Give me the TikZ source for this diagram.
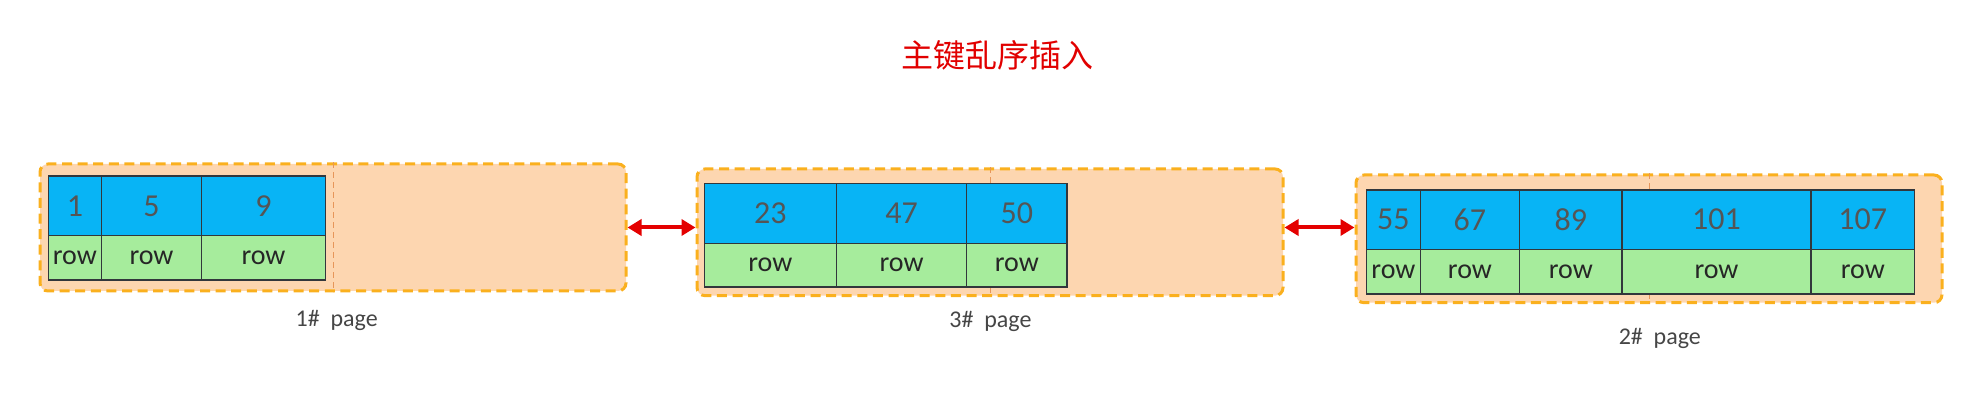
\documentclass[tikz,border=0pt]{standalone}
\usepackage{fontspec}
\setmainfont{Carlito}
\newfontfamily\cjk{Noto Sans CJK SC}
\usetikzlibrary{arrows.meta}
\definecolor{keyblue}{RGB}{8,180,245}
\definecolor{rowgreen}{RGB}{166,236,156}
\definecolor{pagefill}{RGB}{253,214,176}
\definecolor{pageedge}{RGB}{250,176,30}
\definecolor{divedge}{RGB}{230,150,90}
\definecolor{cellline}{RGB}{50,55,60}
\definecolor{numgray}{RGB}{85,85,85}
\definecolor{labgray}{RGB}{70,70,70}
\definecolor{titlered}{RGB}{225,0,0}
\definecolor{arrowred}{RGB}{228,0,0}
\newcommand\mkcell[7]{%
  \node[#2, minimum width={(#5-#3)*0.5pt}, minimum height={(#6-#4)*0.5pt}] (#1) at ({(#3+#5)/2},{(#4+#6)/2}) {#7};}
\tikzset{
  pagebox/.style={draw=pageedge, fill=pagefill, line width=1.5pt, dash pattern=on 5pt off 2.8pt, rounded corners=4pt, inner sep=0pt},
  divline/.style={draw=divedge, line width=0.4pt, dash pattern=on 3pt off 2pt},
  keycell/.style={draw=cellline, fill=keyblue, line width=0.6pt, inner sep=0pt, text=numgray, font=\fontsize{16}{18}\selectfont},
  rowcell/.style={draw=cellline, fill=rowgreen, line width=0.6pt, inner sep=0pt, text=black!85, font=\fontsize{14}{16}\selectfont},
  pagelabel/.style={text=labgray, font=\fontsize{12}{14}\selectfont, inner sep=0pt},
  link/.style={draw=arrowred, line width=2pt, {Triangle[length=7pt,width=8pt]}-{Triangle[length=7pt,width=8pt]}}
}
\begin{document}
\begin{tikzpicture}[x=0.5pt,y=-0.5pt]
\useasboundingbox (0,0) rectangle (1986,406);
% title
\node[text=titlered, font=\cjk\fontsize{16}{18}\selectfont, inner sep=0pt] (title) at (997,55) {主键乱序插入};
% page boxes
\node[pagebox, minimum width=293pt, minimum height=63.5pt] (p1) at (333,227.5) {};
\node[pagebox, minimum width=293pt, minimum height=63.35pt] (p3) at (990,232.3) {};
\node[pagebox, minimum width=293pt, minimum height=63.85pt] (p2) at (1649,238.85) {};
\draw[divline] (p1.north) -- (p1.south);
\draw[divline] (p3.north) -- (p3.south);
\draw[divline] (p2.north) -- (p2.south);
% page 1 table
\mkcell{k11}{keycell}{48.4}{176}{101.4}{235.7}{1}
\mkcell{k12}{keycell}{101.4}{176}{201.6}{235.7}{5}
\mkcell{k13}{keycell}{201.6}{176}{325.4}{235.7}{9}
\mkcell{r11}{rowcell}{48.4}{235.7}{101.4}{280}{row}
\mkcell{r12}{rowcell}{101.4}{235.7}{201.6}{280}{row}
\mkcell{r13}{rowcell}{201.6}{235.7}{325.4}{280}{row}
% page 3 table
\mkcell{k31}{keycell}{704.2}{183.3}{836.4}{243.3}{23}
\mkcell{k32}{keycell}{836.4}{183.3}{966.8}{243.3}{47}
\mkcell{k33}{keycell}{966.8}{183.3}{1067}{243.3}{50}
\mkcell{r31}{rowcell}{704.2}{243.3}{836.4}{287}{row}
\mkcell{r32}{rowcell}{836.4}{243.3}{966.8}{287}{row}
\mkcell{r33}{rowcell}{966.8}{243.3}{1067}{287}{row}
% page 2 table
\mkcell{k21}{keycell}{1366.7}{190}{1420.2}{249.3}{55}
\mkcell{k22}{keycell}{1420.2}{190}{1519.6}{249.3}{67}
\mkcell{k23}{keycell}{1519.6}{190}{1622}{249.3}{89}
\mkcell{k24}{keycell}{1622}{190}{1811}{249.3}{101}
\mkcell{k25}{keycell}{1811}{190}{1914.6}{249.3}{107}
\mkcell{r21}{rowcell}{1366.7}{249.3}{1420.2}{294}{row}
\mkcell{r22}{rowcell}{1420.2}{249.3}{1519.6}{294}{row}
\mkcell{r23}{rowcell}{1519.6}{249.3}{1622}{294}{row}
\mkcell{r24}{rowcell}{1622}{249.3}{1811}{294}{row}
\mkcell{r25}{rowcell}{1811}{249.3}{1914.6}{294}{row}
% labels
\node[pagelabel] (l1) at (336.7,320) {1\#~~page};
\node[pagelabel] (l3) at (990.4,321.7) {3\#~~page};
\node[pagelabel] (l2) at (1659.8,338.3) {2\#~~page};
% links
\draw[link] (p1.east) -- (p3.west |- p1.east);
\draw[link] (p3.east |- p1.east) -- (p2.west |- p1.east);
\end{tikzpicture}
\end{document}
